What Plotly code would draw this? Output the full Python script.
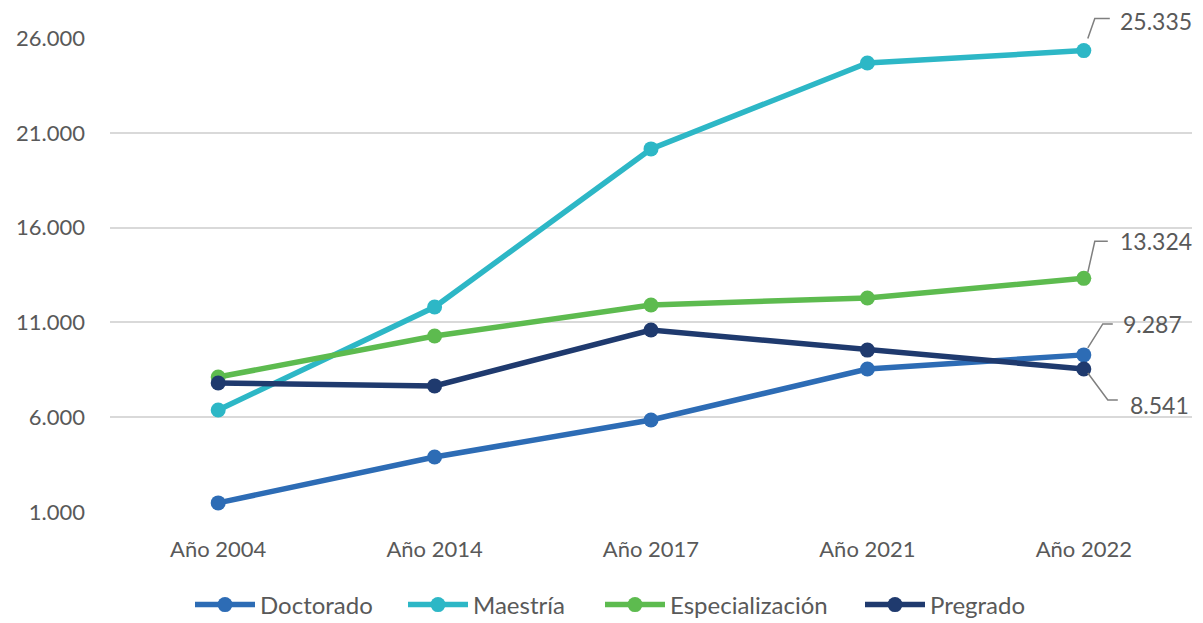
import plotly.graph_objects as go

# Graduates by level of study
years = ["Año 2004", "Año 2014", "Año 2017", "Año 2021", "Año 2022"]
doctorado = [1480, 3900, 5850, 8540, 9287]
maestria = [6380, 11810, 20150, 24680, 25335]
especializacion = [8120, 10280, 11920, 12290, 13324]
pregrado = [7800, 7650, 10600, 9540, 8541]

y_ticks = [1000, 6000, 11000, 16000, 21000, 26000]
y_tick_text = ["1.000", "6.000", "11.000", "16.000", "21.000", "26.000"]

series = [
    ("Doctorado", doctorado, "#2D6CB5"),
    ("Maestría", maestria, "#2DB7C6"),
    ("Especialización", especializacion, "#5DBB4F"),
    ("Pregrado", pregrado, "#1F3A6E"),
]

FONT = "Lato"
TEXT = "#595959"
Y_RANGE = [1000, 26000]
X_RANGE = [-0.5, len(years) - 0.5]
W, H = 1203, 623
MARGIN = dict(l=110, r=11, t=38, b=111)

# Left edge (px) of each legend entry along the bottom row
legend_left_px = [190, 403, 600, 860]

fig = go.Figure()
layout_legends = {}
for i, (name, vals, color) in enumerate(series):
    key = "legend" if i == 0 else f"legend{i + 1}"
    fig.add_trace(go.Scatter(
        x=years, y=vals, name=name, mode="lines+markers",
        line=dict(color=color, width=5.5),
        marker=dict(color=color, size=15),
        cliponaxis=False, legend=key,
    ))
    plot_w = W - MARGIN["l"] - MARGIN["r"]
    layout_legends[key] = dict(
        orientation="h",
        x=(legend_left_px[i] - MARGIN["l"]) / plot_w, xanchor="left",
        yref="container", y=18 / H, yanchor="middle",
        font=dict(family=FONT, size=24, color=TEXT), itemwidth=60,
        bgcolor="rgba(0,0,0,0)",
    )


def fmt(v):
    return f"{v:,}".replace(",", ".")


# Leader lines (pixel offsets from the last point) and label offsets
labels = [
    (maestria[-1], "M 4 12 L 11 32 L 26 32", 34, 30),
    (especializacion[-1], "M 4 6 L 11 37 L 24 37", 34, 37),
    (doctorado[-1], "M 4 7 L 19 31 L 29 31", 37, 31),
    (pregrado[-1], "M 4 -4 L 24 -31 L 34 -31", 44, -36),
]
last = len(years) - 1
last_frac = (last - X_RANGE[0]) / (X_RANGE[1] - X_RANGE[0])
for val, path, dx, dy in labels:
    val_frac = (val - Y_RANGE[0]) / (Y_RANGE[1] - Y_RANGE[0])
    fig.add_shape(
        type="path", path=path, xref="paper", yref="paper",
        xsizemode="pixel", ysizemode="pixel",
        xanchor=last_frac, yanchor=val_frac,
        line=dict(color="#7F7F7F", width=1.5),
    )
    fig.add_annotation(
        x=last, y=val, xref="x", yref="y", text=fmt(val),
        showarrow=False, xanchor="left", yanchor="middle",
        xshift=dx, yshift=dy,
        font=dict(family=FONT, size=23, color=TEXT),
    )

fig.update_layout(
    width=W, height=H,
    margin=MARGIN,
    plot_bgcolor="white", paper_bgcolor="white",
    font=dict(family=FONT, size=22, color=TEXT),
    showlegend=True,
    xaxis=dict(
        type="category", range=X_RANGE, showgrid=False, zeroline=False,
        showline=False, ticks="",
        tickfont=dict(family=FONT, size=22, color=TEXT),
        ticklabelstandoff=22,
    ),
    yaxis=dict(
        range=Y_RANGE, tickvals=y_ticks, ticktext=y_tick_text,
        showgrid=True, gridcolor="#D9D9D9", gridwidth=1.5,
        zeroline=False, showline=False, ticks="",
        tickfont=dict(family=FONT, size=22, color=TEXT),
        ticklabelstandoff=24,
    ),
    **layout_legends,
)

fig.write_html("out.html")
